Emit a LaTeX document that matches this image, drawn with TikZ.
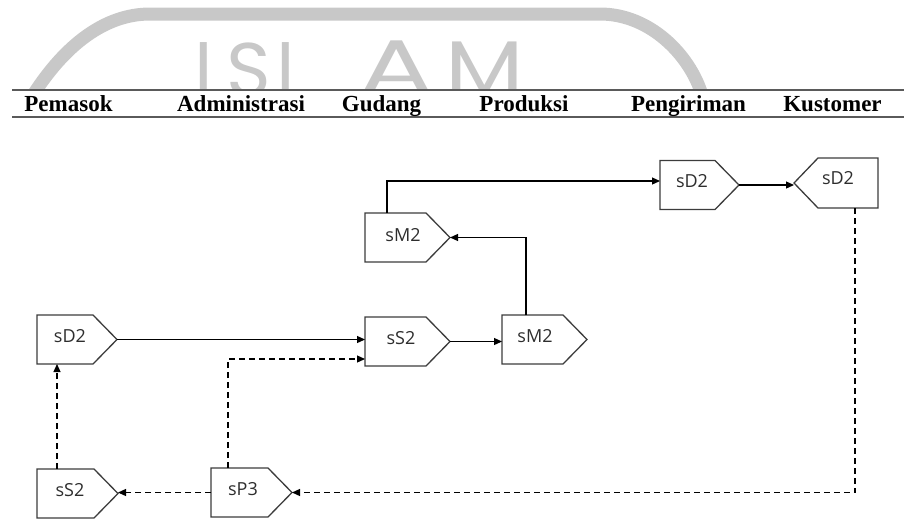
\documentclass[tikz,border=0pt]{standalone}
\usepackage{fontspec}
\setmainfont{Liberation Serif}
\newfontfamily\lblfont{Open Sans}
\newfontfamily\wmfont{Poppins}
\usetikzlibrary{arrows.meta,fit}

\definecolor{wm}{HTML}{C8C8C8}
\definecolor{rule}{HTML}{5A5A5A}
\definecolor{edge}{HTML}{3C3C3C}
\definecolor{ink}{HTML}{2E2E2E}

\tikzset{
  frame/.style={inner sep=0pt, outer sep=0pt},
  shp/.style={draw=edge, line width=1.3pt, fill=white, line join=miter},
  lbl/.style={font=\lblfont\fontsize{18}{20}\selectfont, text=ink, inner sep=0pt},
  lane/.style={font=\bfseries\fontsize{23}{26}\selectfont, anchor=base, inner sep=0pt},
  flow/.style={draw=black, line width=1.2pt, -{Triangle[length=8pt,width=7pt]}},
  dflow/.style={flow, dash pattern=on 6pt off 4pt},
  wmletter/.style={font=\wmfont\fontsize{76}{76}\selectfont, text=wm, inner sep=0pt},
}

% right-pointing process box: name, left, top, tip x, bottom, label x, label y, label
\newcommand{\procR}[8]{%
  \node[frame, fit={(#2,#3) (#4,#5)}] (#1) {};
  \draw[shp] (#1.north west) -- ([xshift=-24pt]#1.north east) -- (#1.east)
    -- ([xshift=-24pt]#1.south east) -- (#1.south west) -- cycle;
  \node[lbl] (#1-t) at (#6,#7) {#8};
}
% left-pointing process box: name, tip x, top, right, bottom, label x, label y, label
\newcommand{\procL}[8]{%
  \node[frame, fit={(#2,#3) (#4,#5)}] (#1) {};
  \draw[shp] (#1.north east) -- ([xshift=24pt]#1.north west) -- (#1.west)
    -- ([xshift=24pt]#1.south west) -- (#1.south east) -- cycle;
  \node[lbl] (#1-t) at (#6,#7) {#8};
}

\begin{document}
\begin{tikzpicture}[x=1pt, y=-1pt]
\useasboundingbox (0,0) rectangle (904,520);

% faint arch watermark behind the header
\begin{scope}
  \clip (0,0) rectangle (904,89);
  \draw[wm, line width=13pt] (33,95) .. controls (65,45) and (105,14) .. (150,14)
    -- (600,14) .. controls (650,14) and (690,55) .. (702,95);
  \node[wmletter, anchor=north] (wI) at (204,42) {I};
  \node[wmletter, anchor=north] (wS) at (249,43) {S};
  \node[wmletter, anchor=north west] (wL) at (276,42) {L};
  \node[wmletter, anchor=north] (wA) at (397,41) {\scalebox{1.45}[1]{A}};
  \node[wmletter, anchor=north] (wM) at (485,42) {\scalebox{1.2}[1]{M}};
\end{scope}

% lane header
\draw[rule, line width=1.3pt] (12,90) -- (904,90);
\draw[rule, line width=1.3pt] (12,117) -- (904,117);
\node[lane] (h1) at (68.5,111) {Pemasok};
\node[lane] (h2) at (241,111) {Administrasi};
\node[lane] (h3) at (381.5,111) {Gudang};
\node[lane] (h4) at (524,111) {Produksi};
\node[lane] (h5) at (688.5,111) {Pengiriman};
\node[lane] (h6) at (832.5,111) {Kustomer};

% process boxes
\procR{pD}{37}{315}{117}{364}{70}{336}{sD2}
\procR{pS}{37}{469}{118}{518}{70}{490}{sS2}
\procR{aP}{211}{468}{292}{517}{243}{489}{sP3}
\procR{gM}{365}{213}{450}{262}{403}{235}{sM2}
\procR{gS}{365}{317}{450}{366}{401}{338}{sS2}
\procR{mM}{502}{315}{587}{364}{535}{336}{sM2}
\procR{kD}{660}{160.5}{739}{209.5}{692}{181}{sD2}
\procL{cD}{794}{158}{878}{208}{838}{178}{sD2}

% material flow
\draw[flow] ([xshift=-20.5pt]gM.north) |- ([yshift=4pt]kD.west);
\draw[flow] (kD.east) -- (kD.east -| cD.west);
\draw[flow] ([xshift=-18.5pt]mM.north) |- (gM.east);
\draw[flow] (pD.east) -- (pD.east -| gS.west);
\draw[flow] (gS.east) -- (gS.east -| mM.west);

% return / order flow
\draw[dflow] ([xshift=-23.5pt]aP.north) |- ([yshift=-17.5pt]gS.west);
\draw[dflow] ([xshift=19pt]cD.south) |- (aP.east);
\draw[dflow] (aP.west) -- (aP.west -| pS.east);
\draw[dflow] ([xshift=-20.5pt]pS.north) -- ([xshift=-20.5pt]pS.north |- pD.south);
\end{tikzpicture}
\end{document}
